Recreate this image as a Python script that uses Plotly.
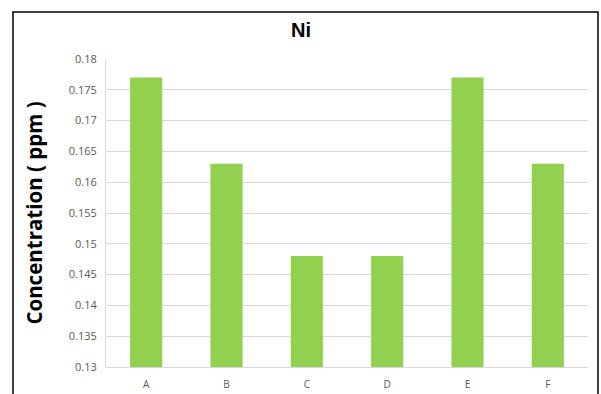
import plotly.graph_objects as go

categories = ["A", "B", "C", "D", "E", "F"]
ni_ppm = [0.177, 0.163, 0.148, 0.148, 0.177, 0.163]
y_ticks = [0.13, 0.135, 0.14, 0.145, 0.15, 0.155, 0.16, 0.165, 0.17, 0.175, 0.18]

W, H = 601, 394
ML, MR, MT, MB = 106, 13, 59, 27
pw, ph = W - ML - MR, H - MT - MB

def px_x(x):
    return (x - ML) / pw

def px_y(y):
    return (H - MB - y) / ph

fig = go.Figure(go.Bar(
    x=categories, y=ni_ppm,
    marker=dict(color="#92d050", line=dict(width=0)),
))

fig.update_layout(
    width=W, height=H,
    margin=dict(l=ML, r=MR, t=MT, b=MB, autoexpand=False),
    paper_bgcolor="white", plot_bgcolor="white",
    bargap=0.6,
    showlegend=False,
    font=dict(family="Open Sans, sans-serif", color="#595959"),
    title=dict(text="<b>Ni</b>", x=301 / W, xanchor="center",
               y=1 - 30 / H, yanchor="middle",
               font=dict(size=20, color="black", family="Liberation Sans, Arial, sans-serif")),
    xaxis=dict(showgrid=False, showline=True, linecolor="#d9d9d9", linewidth=1,
               automargin=False,
               ticks="", tickfont=dict(size=10), ticklabelstandoff=8),
    yaxis=dict(range=[0.13, 0.18], tickvals=y_ticks,
               ticktext=[f"{v:g}" for v in y_ticks],
               automargin=False,
               showgrid=True, gridcolor="#d9d9d9", gridwidth=1,
               showline=True, linecolor="#d9d9d9", zeroline=False,
               ticks="", tickfont=dict(size=11), ticklabelstandoff=6,
               title=dict(text="<b>Concentration ( ppm )</b>",
                          font=dict(size=20.5, color="black", family="Open Sans, sans-serif"),
                          standoff=20)),
    shapes=[dict(type="rect", xref="paper", yref="paper",
                 x0=px_x(13), x1=px_x(598), y0=px_y(420), y1=px_y(12),
                 line=dict(color="black", width=1.5), fillcolor="rgba(0,0,0,0)",
                 layer="above")],
)

fig.write_html("out.html")
